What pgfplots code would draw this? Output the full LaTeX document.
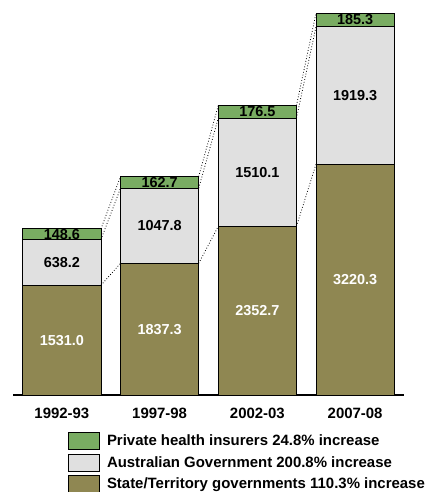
\documentclass[border=0pt]{standalone}
\usepackage{pgfplots}
\usepackage{pgfplotstable}
\usepackage{fontspec}
\setmainfont{Liberation Sans}
\pgfplotsset{compat=1.18}
\definecolor{cgreen}{RGB}{121,172,98}
\definecolor{cgrey}{RGB}{224,224,224}
\definecolor{colive}{RGB}{143,135,82}
\pgfplotstableread{
x state aus priv
0 1531.0 638.2 148.6
1 1837.3 1047.8 162.7
2 2352.7 1510.1 176.5
3 3220.3 1919.3 185.3
}\data
\begin{document}
\begin{tikzpicture}[font=\bfseries]
\pgfplotsset{base/.style={width=391bp,height=395bp,scale only axis,
  xmin=-0.5,xmax=3.5,ymin=0,ymax=5510},
  conn/.style={black, dotted, line width=0.8pt, mark=none}}
\begin{axis}[base, ybar stacked, bar width=0.8,
  axis x line=bottom, axis y line=none,
  axis line style={-,line width=1.2pt},
  xtick=data, xticklabels={1992-93,1997-98,2002-03,2007-08},
  xtick style={draw=none},
  xticklabel style={font=\fontsize{15}{17}\selectfont\bfseries, yshift=-7bp},
  legend image code/.code={\draw[#1,line width=0.8pt] (0bp,-8.5bp) rectangle (31bp,8.5bp);},
  reverse legend,
  legend style={draw=none, fill=none, at={(rel axis cs:0.1407,-0.0924)}, anchor=north west,
    inner sep=0pt, row sep=4bp, font=\fontsize{15}{16}\selectfont\bfseries,
    cells={anchor=west}, nodes={inner sep=1bp},
    /tikz/every odd column/.append style={column sep=6bp}},
  legend cell align=left]
\addplot[fill=colive, draw=black, line width=0.8pt] table[x=x,y=state]{\data};
\addlegendentry{State/Territory governments 110.3\% increase}
\addplot[fill=cgrey, draw=black, line width=0.8pt] table[x=x,y=aus]{\data};
\addlegendentry{Australian Government 200.8\% increase}
\addplot[fill=cgreen, draw=black, line width=0.8pt] table[x=x,y=priv]{\data};
\addlegendentry{Private health insurers 24.8\% increase}
\end{axis}
\begin{axis}[base, hide axis,
  /pgf/number format/.cd, fixed, fixed zerofill, precision=1, 1000 sep={}, assume math mode=true,
  /pgfplots/.cd,
  every node near coord/.append style={anchor=center, font=\fontsize{14.5}{16}\selectfont\bfseries}]
\addplot[draw=none, mark=none, nodes near coords, point meta=explicit,
  every node near coord/.append style={text=white}]
  table[x=x, y expr=\thisrow{state}/2, meta=state]{\data};
\addplot[draw=none, mark=none, nodes near coords, point meta=explicit,
  every node near coord/.append style={text=black}]
  table[x=x, y expr=\thisrow{state}+\thisrow{aus}/2, meta=aus]{\data};
\addplot[draw=none, mark=none, nodes near coords, point meta=explicit,
  every node near coord/.append style={text=black}]
  table[x=x, y expr=\thisrow{state}+\thisrow{aus}+\thisrow{priv}/2, meta=priv]{\data};
% dotted connectors
\addplot[conn] coordinates {(0.4,1531.0) (0.6,1837.3)};
\addplot[conn] coordinates {(0.4,2169.2) (0.6,2885.1)};
\addplot[conn] coordinates {(0.4,2317.8) (0.6,3047.8)};
\addplot[conn] coordinates {(1.4,1837.3) (1.6,2352.7)};
\addplot[conn] coordinates {(1.4,2885.1) (1.6,3862.8)};
\addplot[conn] coordinates {(1.4,3047.8) (1.6,4039.3)};
\addplot[conn] coordinates {(2.4,2352.7) (2.6,3220.3)};
\addplot[conn] coordinates {(2.4,3862.8) (2.6,5139.6)};
\addplot[conn] coordinates {(2.4,4039.3) (2.6,5324.9)};
\end{axis}
\pgfresetboundingbox
\useasboundingbox (-13bp,-97bp) rectangle (418bp,395bp);
\end{tikzpicture}
\end{document}
